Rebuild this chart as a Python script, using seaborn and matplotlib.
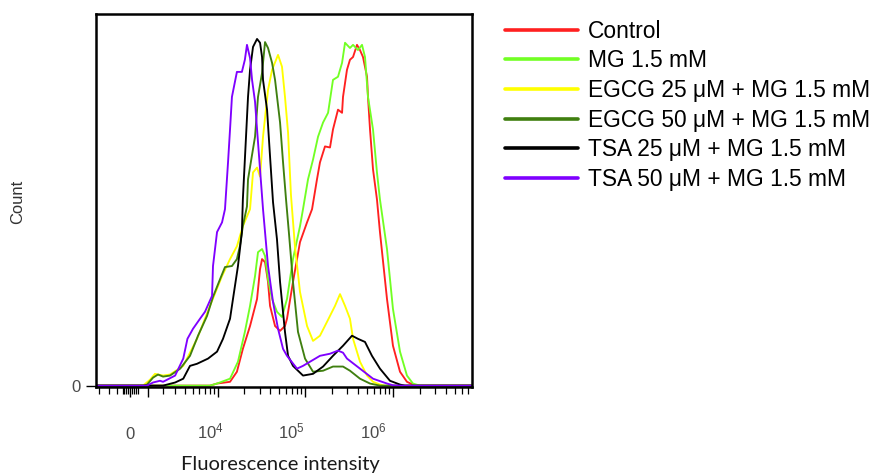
import numpy as np
import pandas as pd
import matplotlib
matplotlib.use("Agg")
import matplotlib.pyplot as plt
import seaborn as sns
from matplotlib.lines import Line2D
from matplotlib.ticker import FixedLocator, FixedFormatter
from matplotlib.transforms import ScaledTranslation

# ---- data -------------------------------------------------------------
conditions = [
    "Control",
    "MG 1.5 mM",
    "EGCG 25 μM + MG 1.5 mM",
    "EGCG 50 μM + MG 1.5 mM",
    "TSA 25 μM + MG 1.5 mM",
    "TSA 50 μM + MG 1.5 mM",
]
colors = ["#ff2020", "#72ff24", "#ffff00", "#3f7f0f", "#000000", "#7f00ff"]

# Histogram outlines: log10 fluorescence intensity and count (% of mode)
control_log = [3.908, 3.990, 4.140, 4.219, 4.287, 4.369, 4.449, 4.483, 4.506, 4.540,
               4.574, 4.597, 4.654, 4.711, 4.767, 4.790, 4.858, 4.938, 5.018, 5.075,
               5.131, 5.165, 5.222, 5.279, 5.313, 5.370, 5.416, 5.427, 5.472, 5.506,
               5.541, 5.586, 5.620, 5.654, 5.700, 5.711, 5.734, 5.768, 5.813, 5.847,
               5.927, 5.995, 6.075, 6.154, 6.222, 6.280]
control_count = [0, 0.6, 1.1, 4.0, 10.6, 17.2, 25.0, 33.6, 36.5, 35.6,
                 29.9, 23.0, 17.2, 15.8, 17.2, 19.3, 29.9, 41.4, 47.1, 50.9,
                 59.5, 64.4, 69.0, 68.7, 73.9, 79.6, 78.7, 83.3, 91.1, 94.0,
                 94.8, 98.3, 96.8, 94.8, 89.1, 83.3, 73.9, 62.4, 53.7, 44.3,
                 25.0, 11.5, 4.0, 1.1, 0.3, 0]

mg_log = [3.908, 3.990, 4.140, 4.231, 4.310, 4.369, 4.426, 4.460, 4.506, 4.540,
          4.574, 4.620, 4.676, 4.733, 4.790, 4.858, 4.938, 4.972, 5.029, 5.086,
          5.143, 5.200, 5.257, 5.313, 5.370, 5.416, 5.450, 5.506, 5.541, 5.597,
          5.643, 5.677, 5.711, 5.768, 5.813, 5.847, 5.927, 5.995, 6.075, 6.154,
          6.222, 6.300]
mg_count = [0, 0.6, 2.0, 6.9, 15.5, 23.0, 31.6, 38.5, 39.4, 37.4,
            30.7, 25.0, 21.3, 19.8, 25.0, 36.5, 46.0, 50.9, 59.5, 65.2,
            71.8, 75.9, 78.7, 88.2, 89.1, 93.1, 98.9, 97.4, 98.3, 96.8,
            98.3, 94.8, 83.3, 73.9, 61.5, 53.7, 39.4, 22.1, 9.8, 2.9,
            0.6, 0]

egcg25_log = [2.846, 3.045, 3.152, 3.296, 3.403, 3.583, 3.754, 3.908, 4.048, 4.140,
              4.219, 4.287, 4.369, 4.403, 4.449, 4.483, 4.517, 4.574, 4.620, 4.688,
              4.733, 4.767, 4.802, 4.835, 4.881, 4.938, 5.018, 5.086, 5.165, 5.245,
              5.336, 5.393, 5.450, 5.506, 5.541, 5.620, 5.700, 5.768, 5.847, 5.904]
egcg25_count = [0, 1.7, 3.4, 2.9, 3.2, 5.7, 13.5, 23.0, 31.6, 36.5,
                40.2, 46.0, 50.9, 61.5, 62.9, 60.3, 71.8, 85.3, 91.1, 95.4,
                92.0, 83.3, 73.0, 55.0, 40.0, 27.0, 17.2, 12.9, 14.4, 18.4,
                23.0, 26.4, 23.0, 19.3, 13.5, 6.9, 2.9, 1.1, 0.3, 0]

egcg50_log = [2.846, 2.969, 3.112, 3.209, 3.296, 3.403, 3.543, 3.668, 3.766, 3.873,
              3.943, 4.025, 4.082, 4.162, 4.219, 4.253, 4.287, 4.334, 4.346, 4.426,
              4.460, 4.506, 4.540, 4.574, 4.620, 4.654, 4.711, 4.745, 4.779, 4.813,
              4.858, 4.915, 4.995, 5.086, 5.200, 5.313, 5.427, 5.506, 5.620, 5.734,
              5.847]
egcg50_count = [0, 0.3, 2.3, 3.2, 2.6, 2.9, 4.9, 8.6, 14.4, 20.1,
                25.6, 30.7, 34.2, 34.5, 36.5, 40.2, 46.0, 51.7, 59.5, 71.8,
                83.3, 90.2, 99.1, 97.4, 93.1, 88.2, 75.9, 64.4, 53.7, 43.7,
                29.9, 15.5, 7.8, 4.0, 4.3, 5.5, 5.5, 4.3, 2.0, 0.6,
                0]

tsa25_log = [3.296, 3.475, 3.583, 3.668, 3.754, 3.885, 3.990, 4.059, 4.140, 4.174,
             4.231, 4.276, 4.287, 4.346, 4.369, 4.403, 4.449, 4.483, 4.506, 4.517,
             4.563, 4.597, 4.631, 4.676, 4.711, 4.767, 4.802, 4.858, 4.972, 5.086,
             5.200, 5.313, 5.427, 5.529, 5.597, 5.677, 5.756, 5.847, 5.961, 6.075,
             6.130]
tsa25_count = [0, 0.9, 2.0, 5.7, 6.3, 7.8, 9.8, 13.5, 19.3, 25.0,
               34.5, 44.3, 53.7, 83.3, 91.1, 97.7, 100.0, 98.9, 94.8, 88.2,
               79.6, 66.1, 52.9, 42.2, 29.9, 15.5, 8.6, 5.7, 2.9, 3.4,
               5.5, 8.6, 11.5, 14.4, 13.5, 12.6, 8.6, 4.9, 1.4, 0.3,
               0]

tsa50_log = [2.969, 3.112, 3.245, 3.296, 3.475, 3.583, 3.636, 3.705, 3.790, 3.849,
             3.932, 3.943, 3.990, 4.048, 4.082, 4.117, 4.140, 4.162, 4.219, 4.276,
             4.310, 4.334, 4.369, 4.392, 4.426, 4.449, 4.483, 4.517, 4.574, 4.631,
             4.688, 4.745, 4.790, 4.904, 4.972, 5.052, 5.165, 5.279, 5.370, 5.427,
             5.472, 5.620, 5.768, 5.927, 5.995, 6.075]
tsa50_count = [0, 0.9, 1.4, 1.1, 2.9, 7.8, 13.5, 16.4, 19.3, 21.3,
               25.9, 34.5, 44.3, 47.1, 50.9, 64.4, 73.9, 83.3, 90.5, 90.5,
               94.0, 98.3, 94.5, 88.2, 81.9, 73.9, 62.4, 50.9, 34.5, 24.1,
               16.4, 10.6, 8.6, 4.9, 5.7, 6.9, 8.6, 9.2, 10.1, 9.5,
               7.8, 4.9, 2.0, 0.6, 0.1, 0]

# acquisition range of the channel (empty bins outside the curves above)
channel_range = (-2050, 7.83e6)

major_ticks = [0, 1e3, 1e4, 1e5, 1e6]
major_labels = ["0", "", r"$\mathregular{10^4}$", r"$\mathregular{10^5}$",
                r"$\mathregular{10^6}$"]
minor_ticks = ([-1800, -1200, -700, -400, -300, -200, -100, 100, 200, 300, 400]
               + [k * 10.0 ** e for e in range(3, 7) for k in range(2, 10)])

# ---- assemble long table ---------------------------------------------
series = [
    (control_log, control_count),
    (mg_log, mg_count),
    (egcg25_log, egcg25_count),
    (egcg50_log, egcg50_count),
    (tsa25_log, tsa25_count),
    (tsa50_log, tsa50_count),
]
frames = []
for name, (lg, cnt) in zip(conditions, series):
    x = np.concatenate([[channel_range[0]], 10.0 ** np.asarray(lg), [channel_range[1]]])
    y = np.concatenate([[0.0], np.asarray(cnt, float), [0.0]])
    frames.append(pd.DataFrame({"intensity": x, "count": y, "condition": name}))
df = pd.concat(frames, ignore_index=True)

# ---- style --------------------------------------------------------------
sns.set_style("white")
plt.rcParams["font.family"] = ["Liberation Sans", "DejaVu Sans"]
plt.rcParams["mathtext.fontset"] = "custom"
plt.rcParams["mathtext.rm"] = "Liberation Sans"
plt.rcParams["mathtext.it"] = "Liberation Sans:italic"
plt.rcParams["mathtext.bf"] = "Liberation Sans:bold"

fig = plt.figure(figsize=(8.72, 4.73), dpi=100)
ax = fig.add_axes([0.1101, 0.1818, 0.4312, 0.7886])

sns.lineplot(data=df, x="intensity", y="count", hue="condition",
             hue_order=conditions, palette=colors, estimator=None, sort=False,
             linewidth=1.35, legend=False, ax=ax)

ax.set_xscale("asinh", linear_width=2024)
ax.set_xlim(*channel_range)
ax.set_ylim(-0.4, 107.2)

for s in ax.spines.values():
    s.set_visible(True)
    s.set_color("black")
    s.set_linewidth(1.8)

ax.xaxis.set_major_locator(FixedLocator(major_ticks))
ax.xaxis.set_major_formatter(FixedFormatter(major_labels))
ax.xaxis.set_minor_locator(FixedLocator(minor_ticks))
ax.tick_params(axis="x", which="major", bottom=True, direction="out", length=7.2,
               width=1.0, color="black", pad=30, labelsize=12, labelcolor="#4a4a4a")
ax.tick_params(axis="x", which="minor", bottom=True, direction="out", length=5.0,
               width=0.9, color="black")
ax.set_yticks([0])
ax.set_yticklabels(["0"])
ax.tick_params(axis="y", which="major", left=True, direction="out", length=7.2,
               width=1.0, color="black", pad=4, labelsize=12, labelcolor="#4a4a4a")

# decade labels sit slightly left of their ticks, more so further right
label_shift_px = [0, 0, -8, -14, -20]
fig.canvas.draw()
for lab, dx in zip(ax.xaxis.get_majorticklabels(), label_shift_px):
    lab.set_verticalalignment("baseline")
    if dx:
        lab.set_transform(lab.get_transform()
                          + ScaledTranslation(dx / 100, 0, fig.dpi_scale_trans))

ax.set_xlabel("Fluorescence intensity", fontsize=14.5, family="Lato", color="#1a1a1a")
ax.xaxis.set_label_coords(0.4907, -0.184)
ax.set_ylabel("Count", fontsize=11.9, color="#333333")
ax.yaxis.set_label_coords(-0.188, 0.496)

handles = [Line2D([], [], color=c, linewidth=2.6) for c in colors]
fig.legend(handles, conditions, loc="upper left", bbox_to_anchor=(0.579, 0.958),
           frameon=False, fontsize=16.4, handlelength=3.2, handletextpad=0.45,
           labelspacing=0.29, borderpad=0, borderaxespad=0, labelcolor="black")

fig.savefig("out.png", dpi=100)
